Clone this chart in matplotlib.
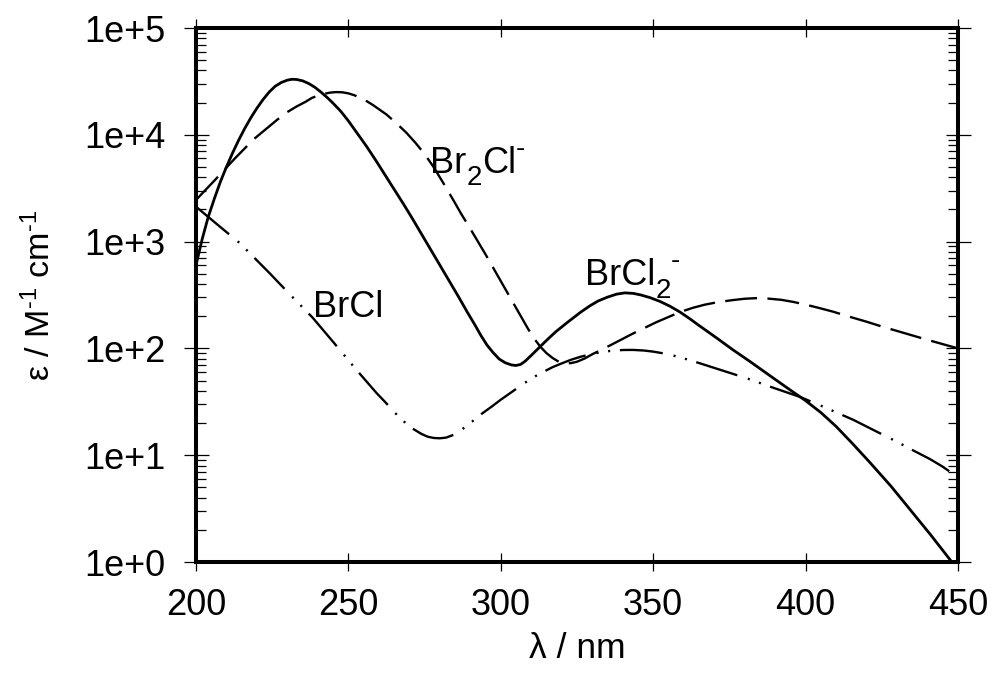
import matplotlib
matplotlib.use('Agg')
import matplotlib.pyplot as plt
from matplotlib.ticker import LogLocator, NullLocator, NullFormatter

plt.rcParams['font.family'] = ['Liberation Sans', 'DejaVu Sans']
plt.rcParams['mathtext.fontset'] = 'custom'
plt.rcParams['mathtext.rm'] = 'Liberation Sans'
plt.rcParams['mathtext.it'] = 'Liberation Sans:italic'
plt.rcParams['mathtext.default'] = 'regular'
plt.rcParams['lines.scale_dashes'] = False

# ---- data ----
wl_brcl2 = [200, 202, 204, 206, 208, 210, 212, 214, 216, 218, 220, 222, 224, 226, 228, 230,
            231.5, 233, 235, 237, 239, 241, 243, 245, 247.5, 250, 253, 256, 259, 262, 265,
            268, 271, 274, 277, 280, 283, 286, 289, 291.5, 293.5, 295.5, 297.5, 299.5,
            301.5, 303.5, 305, 306.5, 308, 310, 312.5, 315, 318, 321.7, 326, 329.3, 332,
            335, 338, 340.7, 343.5, 346, 349, 352.2, 355.5, 358.8, 362, 365, 370.8, 376,
            381.8, 390, 395, 400, 405, 410, 415, 421, 428, 434.3, 441, 447.4, 450]
eps_brcl2 = [603, 1047, 1698, 2512, 3631, 5012, 6761, 8913, 11480, 14450, 17780, 21380,
             25120, 28510, 30900, 32510, 33110, 32960, 31990, 30200, 27860, 25120, 22390,
             19720, 16600, 13490, 10230, 7762, 5754, 4217, 3090, 2265, 1641, 1175, 841.4,
             602.6, 431.5, 309.0, 218.8, 166.0, 131.8, 107.2, 91.2, 79.4, 73.3, 70.0, 69.2,
             70.8, 75.9, 86.1, 101.2, 118.9, 142.9, 173.8, 216.3, 251.2, 278.6, 302.0, 322.1,
             331.1, 327.3, 316.2, 298.5, 275.4, 248.3, 218.8, 189.7, 164.1, 125.3, 97.7, 75.2,
             51.3, 40.7, 32.4, 25.1, 18.6, 13.2, 8.61, 5.13, 3.09, 1.80, 1.05, 0.83]

wl_br2cl = [200, 206, 212.8, 219, 226.6, 229.5, 233, 236, 238, 240, 242, 244, 246, 248, 250,
            252, 254, 256, 258, 260, 262.5, 265.8, 269, 272, 275, 277.9, 281, 284.4, 287,
            290, 295, 300, 304, 307, 309, 311, 313, 315, 317, 319, 321, 323, 325, 327.5,
            330, 336, 343.4, 351, 358.8, 363, 367, 371, 376, 380, 383.4, 387, 392, 396, 400,
            404.5, 409, 414, 420, 425, 431, 440, 450]
eps_br2cl = [2455, 3715, 6026, 9120, 13800, 16030, 18410, 20420, 22130, 23280, 24210, 24830,
             25120, 25000, 24430, 23440, 22130, 20650, 19050, 17380, 15490, 12790, 10470,
             8414, 6607, 5012, 3589, 2455, 1820, 1318, 758.6, 426.6, 269.2, 190.5, 151.4,
             123.0, 103.5, 90.2, 81.3, 75.0, 72.4, 72.8, 75.0, 80.4, 88.1, 107.2, 138.0,
             175.8, 218.8, 239.9, 257.0, 270.4, 283.1, 291.7, 295.1, 293.8, 285.1, 272.3,
             257.0, 238.8, 220.8, 199.5, 177.8, 160.3, 142.9, 120.2, 100]

wl_brcl = [200, 207, 214.4, 224.3, 231, 238.2, 245, 252, 259.3, 262, 265, 268, 271, 274, 276,
           278, 280, 282, 284.5, 287, 290, 293.2, 297, 300, 304, 307.4, 311, 314, 317, 320,
           323, 326, 329, 332.5, 336, 340, 343.4, 347, 350, 353.5, 357, 361, 365.4, 373,
           380.7, 389, 398.2, 407, 415.7, 423, 429.9, 435, 440.8, 445, 450]
eps_brcl = [2123, 1445, 966, 501, 316, 195, 115, 66.1, 38.0, 31.6, 25.4, 20.9, 17.8, 15.8,
            14.9, 14.5, 14.4, 14.6, 15.5, 17.2, 20.0, 23.8, 28.5, 33.1, 39.8, 46.6, 54.3,
            60.3, 66.8, 72.4, 78.2, 83.2, 87.5, 91.6, 94.8, 96.6, 96.8, 95.5, 93.3, 89.7,
            85.1, 79.1, 72.4, 61.7, 52.5, 43.2, 35.1, 27.5, 21.4, 16.8, 13.4, 11.2, 9.2,
            7.8, 6.2]

x_ticks = [200, 250, 300, 350, 400, 450]
x_tick_labels = ['200', '250', '300', '350', '400', '450']
y_ticks = [1, 10, 100, 1000, 1e4, 1e5]
y_tick_labels = ['1e+0', '1e+1', '1e+2', '1e+3', '1e+4', '1e+5']

fig = plt.figure(figsize=(9.93, 6.78), dpi=100)
ax = fig.add_axes([196 / 993, (678 - 562) / 678, (958 - 196) / 993, (562 - 28) / 678])

ax.plot(wl_brcl2, eps_brcl2, color='black', lw=2.0, solid_joinstyle='round')
ax.plot(wl_br2cl, eps_br2cl, color='black', lw=1.7, linestyle=(0, (23, 7.5)),
        dash_capstyle='butt', dash_joinstyle='round')
ax.plot(wl_brcl, eps_brcl, color='black', lw=1.7,
        linestyle=(0, (31, 8, 1.5, 7, 1.5, 7)), dash_capstyle='butt',
        dash_joinstyle='round')

ax.set_yscale('log')
ax.set_xlim(200, 450)
ax.set_ylim(1, 1e5)

ax.set_xticks(x_ticks, labels=x_tick_labels)
ax.xaxis.set_minor_locator(NullLocator())
ax.set_yticks(y_ticks, labels=y_tick_labels)
ax.yaxis.set_minor_locator(LogLocator(base=10, subs=range(2, 10)))
ax.yaxis.set_minor_formatter(NullFormatter())

ax.tick_params(axis='y', which='major', direction='inout', length=18, width=0.9,
               pad=13, labelsize=26, right=True, left=True)
ax.tick_params(axis='y', which='minor', direction='in', length=7.5, width=0.9,
               right=True, left=True)
ax.tick_params(axis='x', which='major', direction='inout', length=13, width=0.9,
               pad=12.5, labelsize=26, top=True, bottom=True)
for sp in ax.spines.values():
    sp.set_linewidth(2.9)

ax.set_xlabel('λ / nm', fontsize=25.5)
ax.xaxis.set_label_coords(0.5, -0.131)
ax.set_ylabel('ε / M$^{‐1}$ cm$^{‐1}$', fontsize=24.5)
ax.yaxis.set_label_coords(-0.182, 0.5)


def chem_label(x, y, parts, size=26, sub_size=20, sub_dy=-9, sup_dy=12.5):
    prev = ax.text(x, y, parts[0][0], fontsize=size, ha='left', va='baseline')
    for txt, kind in parts[1:]:
        if kind == 'sub':
            fs, dy = sub_size, sub_dy
        elif kind == 'sup':
            fs, dy = sub_size, sup_dy
        else:
            fs, dy = size, 0
        prev = ax.annotate(txt, xy=(1.0, y), xycoords=(prev, 'data'),
                           xytext=(0, dy), textcoords='offset points',
                           fontsize=fs, ha='left', va='baseline')


chem_label(276.8, 4390, [('Br', 'n'), ('2', 'sub'), ('Cl', 'n'), ('-', 'sup')])
chem_label(327.6, 392, [('BrCl', 'n'), ('2', 'sub'), ('-', 'sup')])
chem_label(238.4, 197, [('BrCl', 'n')])

fig.savefig('out.png', dpi=100)
